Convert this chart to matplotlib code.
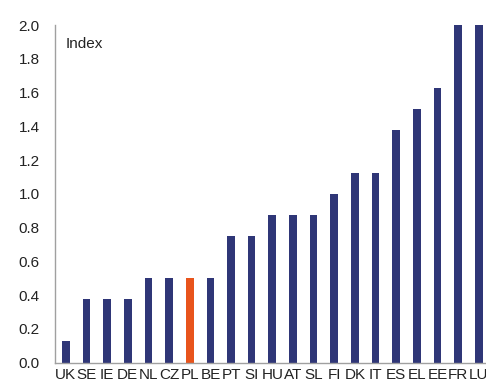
import numpy as np
import matplotlib
matplotlib.use("Agg")
import matplotlib.pyplot as plt

# country index values
countries = ["UK", "SE", "IE", "DE", "NL", "CZ", "PL", "BE", "PT", "SI", "HU",
             "AT", "SL", "FI", "DK", "IT", "ES", "EL", "EE", "FR", "LU"]
values = [0.125, 0.375, 0.375, 0.375, 0.5, 0.5, 0.5, 0.5, 0.75, 0.75, 0.875,
          0.875, 0.875, 1.0, 1.125, 1.125, 1.375, 1.5, 1.625, 2.0, 2.0]
highlight = "PL"

navy = "#2f3677"
orange = "#e8541c"
colors = [orange if c == highlight else navy for c in countries]

plt.rcParams["font.family"] = ["Liberation Sans", "DejaVu Sans"]

fig = plt.figure(figsize=(4.86, 3.82), dpi=100)
ax = fig.add_axes([0.113, 0.051, 0.887, 0.8835])

x = np.arange(len(countries))
ax.bar(x, values, width=0.37, color=colors)

ax.set_xlim(-0.53, 20.35)
ax.set_ylim(0, 2.0)
ax.set_yticks(np.arange(0, 2.01, 0.2))
ax.set_yticklabels(["%.1f" % v for v in np.arange(0, 2.01, 0.2)])
ax.set_xticks(x)
ax.set_xticklabels(countries)

for s in ["top", "right"]:
    ax.spines[s].set_visible(False)
for s in ["left", "bottom"]:
    ax.spines[s].set_color("#a0a0a0")
    ax.spines[s].set_linewidth(1.0)

ax.tick_params(axis="y", length=0, pad=11, labelsize=11, colors="#222222")
ax.tick_params(axis="x", length=0, pad=4, labelsize=11, colors="#222222")

ax.text(0.025, 0.945, "Index", transform=ax.transAxes, fontsize=11,
        color="#222222", va="center", ha="left")

fig.savefig("out.png", dpi=100)
